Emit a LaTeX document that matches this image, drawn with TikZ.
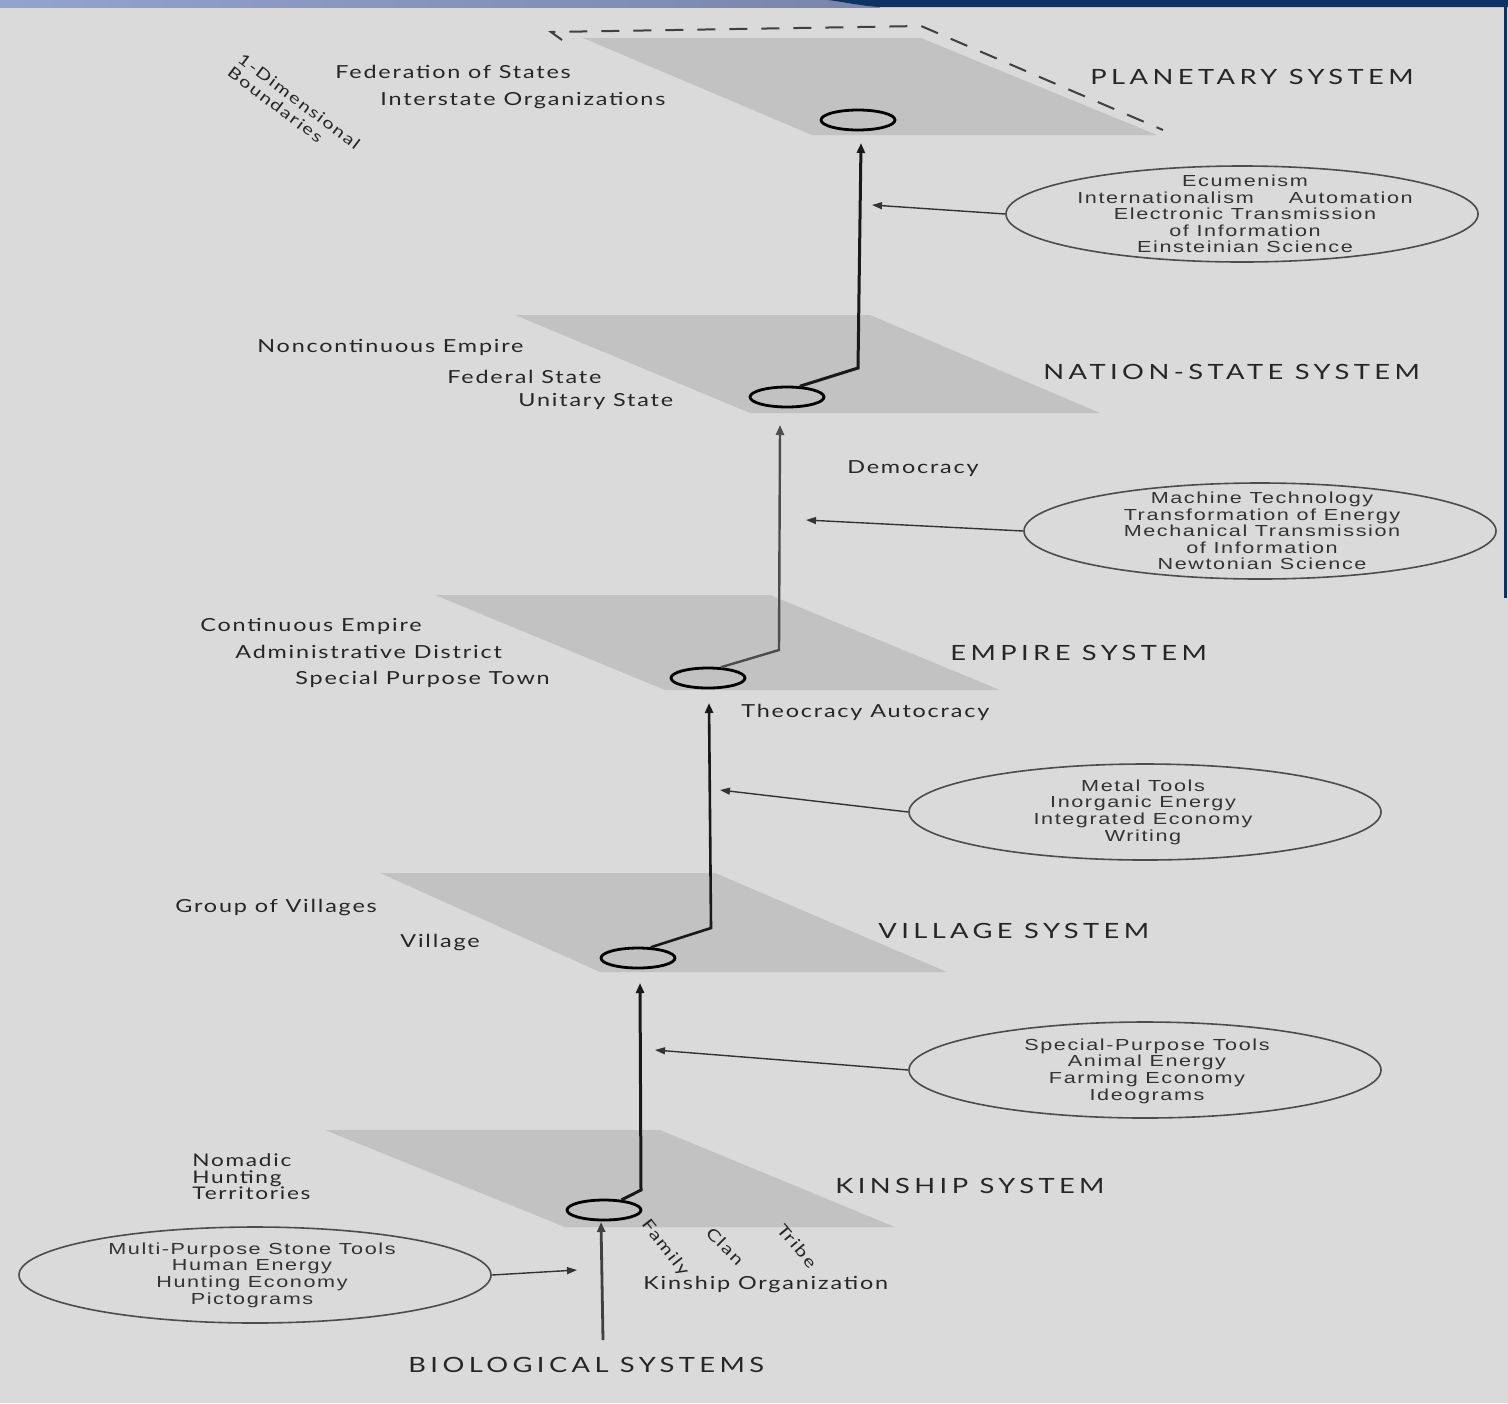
\documentclass[tikz,border=0pt]{standalone}
\usepackage{fontspec}
\setmainfont{Lato}
\newfontfamily\labfont[FakeStretch=1.3,LetterSpace=10]{Lato}
\newfontfamily\capfont[FakeStretch=1.3,LetterSpace=21]{Lato}
\newfontfamily\elfont[FakeStretch=1.35,LetterSpace=10]{Liberation Sans}
\usetikzlibrary{arrows.meta,shapes.geometric}
\definecolor{bg}{HTML}{DADADA}
\definecolor{planegray}{HTML}{C2C2C2}
\definecolor{bandL}{HTML}{93A3CF}
\definecolor{bandR}{HTML}{7985AA}
\definecolor{navy}{HTML}{0C3366}
\begin{document}
\begin{tikzpicture}[x=0.5pt,y=-0.5pt,
  lab/.style={font=\labfont\fontsize{9}{10}\selectfont, anchor=west, inner sep=0pt, text=black!85},
  syslab/.style={font=\capfont\fontsize{10.5}{12}\selectfont, anchor=west, inner sep=0pt, text=black!85},
  plane/.style={fill=planegray},
  hub/.style={ellipse, draw=black, line width=1.4pt, minimum width=37pt, minimum height=10pt, inner sep=0pt},
  trunk/.style={line width=1.5pt, draw=black!90, -{Triangle[length=5pt,width=4pt]}},
  feed/.style={line width=0.7pt, draw=black!80, -{Triangle[length=5pt,width=3.5pt]}},
  bubble/.style={ellipse, draw=black!70, line width=0.8pt, inner sep=0pt, minimum width=236pt, minimum height=48pt},
  btext/.style={align=center, inner sep=0pt, text=black!80, font=\elfont\fontsize{8}{8.3}\selectfont}]
\useasboundingbox (0,0) rectangle (1508,1403);
\fill[bg] (0,0) rectangle (1508,1403);
% top band
\shade[left color=bandL, right color=bandR] (0,0) rectangle (880,7);
\fill[navy] (828,0) .. controls (850,3) and (862,6) .. (880,7) -- (1508,7) -- (1508,0) -- cycle;
\fill[navy] (1504,0) rectangle (1507,598);

% planes
\fill[plane] (583,38) -- (921,38) -- (1157,135) -- (812,135) -- cycle;
\fill[plane] (515,315) -- (870,315) -- (1100,413) -- (750,413) -- cycle;
\fill[plane] (435,595) -- (770,595) -- (1000,690) -- (665,690) -- cycle;
\fill[plane] (380,873) -- (715,873) -- (947,972) -- (600,972) -- cycle;
\fill[plane] (325,1130) -- (660,1130) -- (895,1227) -- (565,1227) -- cycle;
\draw[black!75, line width=1pt, dash pattern=on 9pt off 7pt] (562,40) -- (551,32) -- (921,26) -- (1163,130);

% hubs
\node[hub] (hplan) at (858,120) {};
\node[hub] (hnat) at (787,397) {};
\node[hub] (hemp) at (708,678) {};
\node[hub] (hvil) at (638,958) {};
\node[hub] (hkin) at (604,1210) {};

% trunk coordinates
\coordinate (nbend) at (858,368);
\coordinate (ntop) at (861,143);
\coordinate (ebend) at (779,650);
\coordinate (etop) at (780,425);
\coordinate (vbend) at (711,928);
\coordinate (vtop) at (709,703);
\coordinate (kbend) at (641,1190);
\coordinate (ktop) at (640,983);
\coordinate (bbot) at (603,1340);
\coordinate (btop) at (601,1222);

\draw[trunk] (hnat.40) -- (nbend) -- (ntop);
\draw[trunk, line width=1.2pt, draw=black!70] (hemp.40) -- (ebend) -- (etop);
\draw[trunk, line width=1.3pt] (hvil.40) -- (vbend) -- (vtop);
\draw[trunk] (hkin.30) -- (kbend) -- (ktop);
\draw[trunk, line width=1.4pt, draw=black!75] (bbot) -- (btop);

% bubbles
\node[bubble] (e1) at (1242,214) {};
\node[btext] at (1245,214) {Ecumenism\\Internationalism\hspace{2.2em}Automation\\Electronic Transmission\\of Information\\Einsteinian Science};
\node[bubble] (e2) at (1260,531) {};
\node[btext] at (1262,531) {Machine Technology\\Transformation of Energy\\Mechanical Transmission\\of Information\\Newtonian Science};
\node[bubble] (e3) at (1145,812) {};
\node[btext] at (1143,812) {Metal Tools\\Inorganic Energy\\Integrated Economy\\Writing};
\node[bubble] (e4) at (1145,1070) {};
\node[btext] at (1147,1071) {Special-Purpose Tools\\Animal Energy\\Farming Economy\\Ideograms};
\node[bubble] (e5) at (255,1275) {};
\node[btext] at (252,1275) {Multi-Purpose Stone Tools\\Human Energy\\Hunting Economy\\Pictograms};

\coordinate (f1) at (872,205);
\coordinate (f2) at (806,520);
\coordinate (f3) at (720,790);
\coordinate (f4) at (655,1050);
\coordinate (f5) at (577,1270);
\draw[feed] (e1.west) -- (f1);
\draw[feed] (e2.west) -- (f2);
\draw[feed] (e3.west) -- (f3);
\draw[feed] (e4.west) -- (f4);
\draw[feed] (e5.east) -- (f5);

% labels
\node[lab, anchor=center, rotate=-37, align=left, font=\labfont\fontsize{7.8}{8.5}\selectfont] (dim) at (294,108) {1-Dimensional\\Boundaries};
\node[lab] (fed) at (335,72) {Federation of States};
\node[lab] (inter) at (380,101) {Interstate Organizations};
\node[syslab] (plansys) at (1090,77) {PLANETARY SYSTEM};

\node[lab] (noncont) at (257,347) {Noncontinuous Empire};
\node[lab] (federal) at (447,377) {Federal State};
\node[lab] (unitary) at (518,401) {Unitary State};
\node[syslab] (natsys) at (1043,372) {NATION-STATE SYSTEM};
\node[lab] (democ) at (847,469) {Democracy};

\node[lab] (cont) at (200,626) {Continuous Empire};
\node[lab] (admin) at (235,652) {Administrative District};
\node[lab] (spt) at (295,679) {Special Purpose Town};
\node[syslab] (empsys) at (950,653) {EMPIRE SYSTEM};
\node[lab] (theo) at (741,712) {Theocracy Autocracy};

\node[lab] (group) at (175,907) {Group of Villages};
\node[lab] (village) at (400,942) {Village};
\node[syslab] (vilsys) at (878,931) {VILLAGE SYSTEM};

\node[lab, align=left, font=\labfont\fontsize{8.7}{8.3}\selectfont] (nomadic) at (192,1177) {Nomadic\\Hunting\\Territories};
\node[syslab] (kinsys) at (835,1186) {KINSHIP SYSTEM};
\node[lab, anchor=center, rotate=-52, font=\labfont\fontsize{8}{9}\selectfont] (family) at (665,1248) {Family};
\node[lab, anchor=center, rotate=-45, font=\labfont\fontsize{8}{9}\selectfont] (clan) at (725,1246) {Clan};
\node[lab, anchor=center, rotate=-50, font=\labfont\fontsize{8}{9}\selectfont] (tribe) at (797,1246) {Tribe};
\node[lab] (kinorg) at (643,1284) {Kinship Organization};
\node[syslab] (bio) at (408,1365) {BIOLOGICAL SYSTEMS};
\end{tikzpicture}
\end{document}
